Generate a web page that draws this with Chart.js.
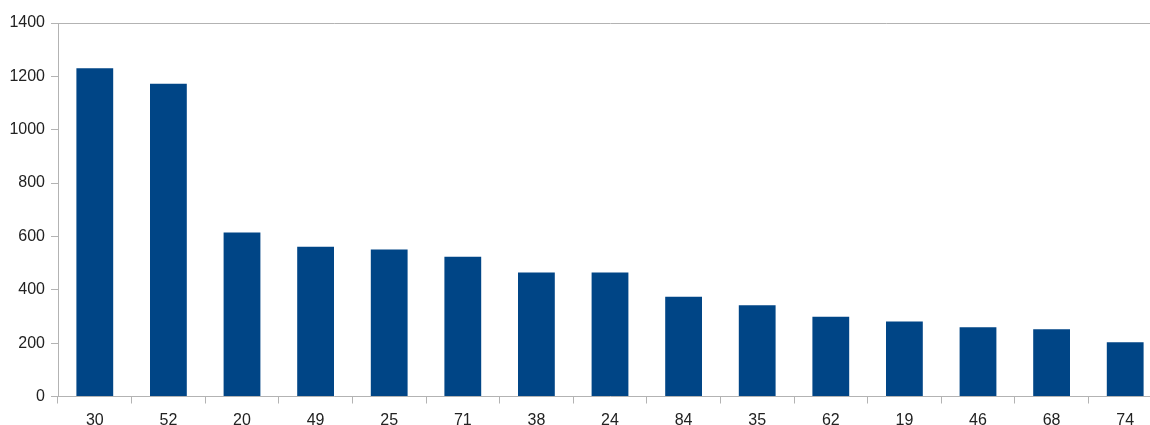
<!DOCTYPE html>
<html>
<head>
<meta charset="utf-8">
<script src="https://cdn.jsdelivr.net/npm/chart.js@4"></script>
<style>
html,body{margin:0;padding:0;background:#fff;overflow:hidden;}
#wrap{width:1165px;height:425px;}
</style>
</head>
<body>
<div id="wrap"><canvas id="c" width="1165" height="425"></canvas></div>
<script>
const categories = ["30","52","20","49","25","71","38","24","84","35","62","19","46","68","74"];
const values = [1230, 1172, 615, 561, 551, 524, 465, 465, 374, 342, 299, 281, 260, 252, 203];
const yTicks = [0, 200, 400, 600, 800, 1000, 1200, 1400];

const lineColor = '#b3b3b3';
const font = {family: '"Liberation Sans", Arial, sans-serif', size: 16};

new Chart(document.getElementById('c'), {
  type: 'bar',
  data: {
    labels: categories,
    datasets: [{
      data: values,
      backgroundColor: '#004586',
      borderWidth: 0,
      categoryPercentage: 1.0,
      barPercentage: 0.5
    }]
  },
  options: {
    responsive: false,
    animation: false,
    layout: {padding: {top: 23, left: 0, right: 3, bottom: 0}},
    plugins: {legend: {display: false}, tooltip: {enabled: false}},
    scales: {
      x: {
        grid: {
          display: true,
          drawOnChartArea: false,
          drawTicks: true,
          tickLength: 7,
          tickColor: lineColor,
          offset: true
        },
        border: {display: true, color: lineColor, width: 1},
        ticks: {color: '#222', font: font, padding: 7, maxRotation: 0},
        afterFit: (s) => { s.height = 28.5; }
      },
      y: {
        min: 0,
        max: 1400,
        afterBuildTicks: (s) => { s.ticks = yTicks.map(v => ({value: v})); },
        grid: {
          drawOnChartArea: true,
          drawTicks: true,
          tickLength: 7,
          tickColor: lineColor,
          color: (ctx) => (ctx.tick && ctx.tick.value === 1400) ? lineColor : 'rgba(0,0,0,0)'
        },
        border: {display: true, color: lineColor, width: 1},
        ticks: {color: '#222', font: font, padding: 6, callback: (v) => String(v)},
        afterFit: (s) => { s.width = 58; }
      }
    }
  }
});
</script>
</body>
</html>
